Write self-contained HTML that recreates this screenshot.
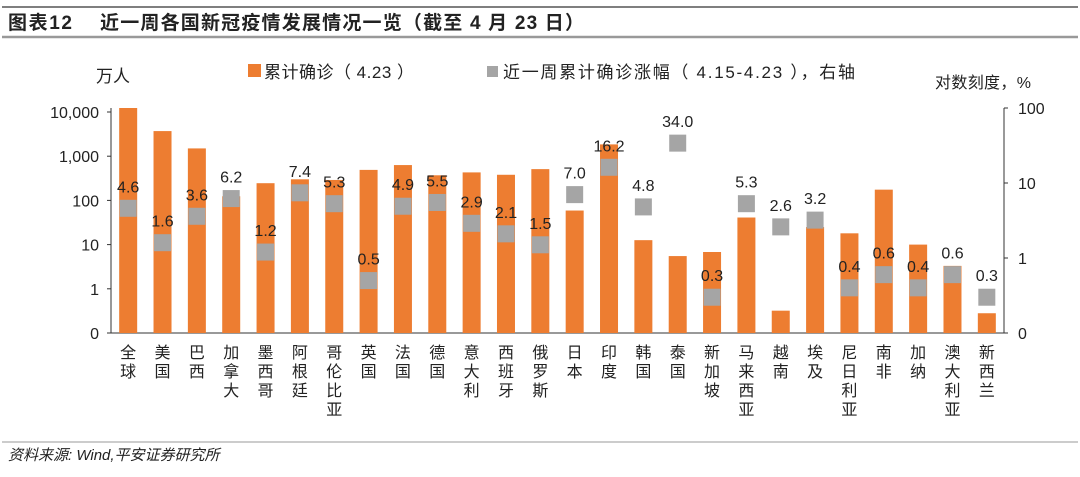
<!DOCTYPE html>
<html><head><meta charset="utf-8">
<style>
body{margin:0;background:#fff;width:1080px;height:472px;overflow:hidden;font-family:"Liberation Sans","Noto Sans CJK SC",sans-serif}
</style></head>
<body>
<svg id="c" width="1080" height="472" xmlns="http://www.w3.org/2000/svg" font-family="Liberation Sans, Noto Sans CJK SC, sans-serif">
<line x1="2" y1="7" x2="1078" y2="7" stroke="#555" stroke-width="1.5"/>
<text x="8" y="29" font-size="19" font-weight="bold" fill="#222" textLength="64">图表12</text>
<text x="100" y="29" font-size="19" font-weight="bold" fill="#222" textLength="484" lengthAdjust="spacing">近一周各国新冠疫情发展情况一览（截至 4 月 23 日）</text>
<line x1="2" y1="37" x2="1078" y2="37" stroke="#999" stroke-width="2.5"/>
<text x="96" y="82" font-size="17" fill="#222">万人</text>
<text x="935" y="88" font-size="16" fill="#222" textLength="96">对数刻度，%</text>
<rect x="248" y="64" width="13" height="13" fill="#ED7D31"/>
<text x="264" y="78" font-size="17" fill="#222" textLength="150" lengthAdjust="spacing">累计确诊（ 4.23 ）</text>
<rect x="487" y="66" width="11" height="11" fill="#A5A5A5"/>
<text x="503" y="78" font-size="17" fill="#222" textLength="352" lengthAdjust="spacing">近一周累计确诊涨幅（ 4.15-4.23 ），右轴</text>
<g id="plot"></g>
<line x1="2" y1="442" x2="1078" y2="442" stroke="#999" stroke-width="1"/>
<text x="8" y="460" font-size="15" font-style="italic" fill="#222">资料来源: Wind,平安证券研究所</text>
</svg>
<script>
const countries=["全球","美国","巴西","加拿大","墨西哥","阿根廷","哥伦比亚","英国","法国","德国","意大利","西班牙","俄罗斯","日本","印度","韩国","泰国","新加坡","马来西亚","越南","埃及","尼日利亚","南非","加纳","澳大利亚","新西兰"];
const cases=[14500,3700,1500,124,245,300,290,490,630,370,430,380,510,59,1850,12.6,5.5,6.8,41,0.32,25,18,175,10,3.3,0.28];
const growth=[4.6,1.6,3.6,6.2,1.2,7.4,5.3,0.5,4.9,5.5,2.9,2.1,1.5,7.0,16.2,4.8,34.0,0.3,5.3,2.6,3.2,0.4,0.6,0.4,0.6,0.3];
const leftTicks=[0.1,1,10,100,1000,10000];
const leftLabels=["0","1","10","100","1,000","10,000"];
const rightTicks=[0.1,1,10,100];
const rightLabels=["0","1","10","100"];
const NS="http://www.w3.org/2000/svg";
const g=document.getElementById('plot');
const X0=111,X1=1004,yBot=333,yTop=112;
const yL=v=>yBot-(Math.log10(v)+1)*(yBot-yTop)/5;
const yR=v=>yBot-(Math.log10(v)+1)*(yBot-108)/3;
const step=(X1-X0)/countries.length;
const xc=i=>X0+step*(i+0.5);
function mk(t,a){const e=document.createElementNS(NS,t);for(const k in a)e.setAttribute(k,a[k]);g.appendChild(e);return e;}
let e=mk('line',{x1:X0,y1:yTop-4,x2:X0,y2:yBot,stroke:'#333'});

e=mk('line',{x1:X1,y1:108,x2:X1,y2:yBot,stroke:'#333'});

e=mk('line',{x1:X0,y1:yBot,x2:X1,y2:yBot,stroke:'#333'});

leftTicks.forEach((v,i)=>{
  mk('line',{x1:X0-4,y1:yL(v),x2:X0,y2:yL(v),stroke:'#333'});
  const t=mk('text',{x:X0-12,y:yL(v)+6,'font-size':16,'text-anchor':'end',fill:'#222'});t.textContent=leftLabels[i];
  
});
rightTicks.forEach((v,i)=>{
  mk('line',{x1:X1,y1:yR(v),x2:X1+4,y2:yR(v),stroke:'#333'});
  const t=mk('text',{x:X1+14,y:yR(v)+6,'font-size':16,fill:'#222'});t.textContent=rightLabels[i];
  
});
countries.forEach((c,i)=>{
  const x=xc(i);
  const top=Math.max(yL(cases[i]),108);
  const b=mk('rect',{x:x-9,y:top,width:18,height:yBot-top,fill:'#ED7D31'});
  
  const sy=yR(growth[i]);
  const s=mk('rect',{x:x-8.5,y:sy-8.5,width:17,height:17,fill:'#A5A5A5'});
  
  const l=mk('text',{x:x,y:sy-16,'font-size':16,'text-anchor':'middle',fill:'#222'});l.textContent=growth[i].toFixed(1);
  
  [...c].forEach((ch,j)=>{
    const t=mk('text',{x:x,y:358+j*19,'font-size':16,'text-anchor':'middle',fill:'#222'});t.textContent=ch;
    
  });
});
</script>
</body></html>
